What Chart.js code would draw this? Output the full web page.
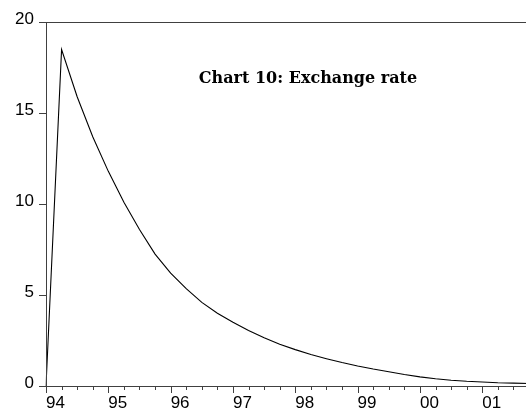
<!DOCTYPE html>
<html><head><meta charset="utf-8">
<script src="https://cdn.jsdelivr.net/npm/chart.js@4/dist/chart.umd.min.js"></script>
<style>
html,body{margin:0;padding:0;overflow:hidden;background:#fff;width:526px;height:416px}
#wrap{position:relative;width:536px;height:416px}
</style></head>
<body><div id="wrap"><canvas id="c" width="536" height="416"></canvas></div>
<script>
const quarters = [
  '1994Q1','1994Q2','1994Q3','1994Q4','1995Q1','1995Q2','1995Q3','1995Q4',
  '1996Q1','1996Q2','1996Q3','1996Q4','1997Q1','1997Q2','1997Q3','1997Q4',
  '1998Q1','1998Q2','1998Q3','1998Q4','1999Q1','1999Q2','1999Q3','1999Q4',
  '2000Q1','2000Q2','2000Q3','2000Q4','2001Q1','2001Q2','2001Q3','2001Q4'
];
const exchangeRate = [
  0, 18.5, 15.9, 13.7, 11.8, 10.1, 8.6, 7.25,
  6.2, 5.35, 4.6, 4.0, 3.5, 3.05, 2.65, 2.3,
  2.0, 1.73, 1.5, 1.29, 1.1, 0.93, 0.78, 0.63,
  0.5, 0.4, 0.32, 0.26, 0.22, 0.18, 0.16, 0.14
];
const yearLabels = ['94','95','96','97','98','99','00','01'];
const yTicks = [0, 5, 10, 15, 20];
const chartTitle = 'Chart 10: Exchange rate';

const axisColor = '#404040';
const labelFont = {family: '"Liberation Sans", Arial, sans-serif', size: 17};

const frame = {
  id: 'frame',
  afterDraw(chart) {
    const ctx = chart.ctx, xs = chart.scales.x, ys = chart.scales.y, ca = chart.chartArea;
    ctx.save();
    ctx.strokeStyle = axisColor;
    ctx.lineWidth = 1;
    ctx.beginPath();
    xs.ticks.forEach((t, i) => {
      const px = Math.round(xs.getPixelForTick(i)) + 0.5;
      const len = (i % 4 === 0) ? 7 : 4;
      ctx.moveTo(px, ca.bottom);
      ctx.lineTo(px, ca.bottom + len);
    });
    ys.ticks.forEach((t, i) => {
      const py = Math.round(ys.getPixelForTick(i)) + 0.5;
      ctx.moveTo(ca.left - 7, py);
      ctx.lineTo(ca.left, py);
    });
    ctx.stroke();
    ctx.strokeRect(Math.round(ca.left) + 0.5, Math.round(ca.top) + 0.5,
                   Math.round(ca.right - ca.left), Math.round(ca.bottom - ca.top));
    ctx.fillStyle = '#000';
    ctx.font = 'bold 16px "DejaVu Serif", serif';
    ctx.textAlign = 'center';
    ctx.textBaseline = 'middle';
    ctx.fillText(chartTitle, 308, 79);
    ctx.restore();
  }
};

new Chart(document.getElementById('c'), {
  type: 'line',
  data: {
    labels: quarters,
    datasets: [{
      data: exchangeRate,
      borderColor: '#000',
      borderWidth: 1.1,
      pointRadius: 0,
      tension: 0,
      fill: false
    }]
  },
  options: {
    responsive: false,
    animation: false,
    layout: {padding: {top: 22, right: 3, left: 0, bottom: 0}},
    plugins: {legend: {display: false}, tooltip: {enabled: false}, title: {display: false}},
    scales: {
      x: {
        type: 'category',
        offset: false,
        grid: {display: false, drawTicks: false},
        border: {display: false},
        ticks: {
          autoSkip: false, maxRotation: 0, minRotation: 0,
          align: 'start', padding: 7, color: '#000', font: labelFont,
          callback: (v, i) => (i % 4 === 0 ? yearLabels[i / 4] : '')
        },
        afterFit: s => { s.height = 30; }
      },
      y: {
        min: 0, max: 20,
        grid: {display: false, drawTicks: false},
        border: {display: false},
        afterBuildTicks: s => { s.ticks = yTicks.map(v => ({value: v})); },
        ticks: {padding: 12, labelOffset: -3, color: '#000', font: labelFont},
        afterFit: s => { s.width = 46; }
      }
    }
  },
  plugins: [frame]
});
</script>
</body></html>
